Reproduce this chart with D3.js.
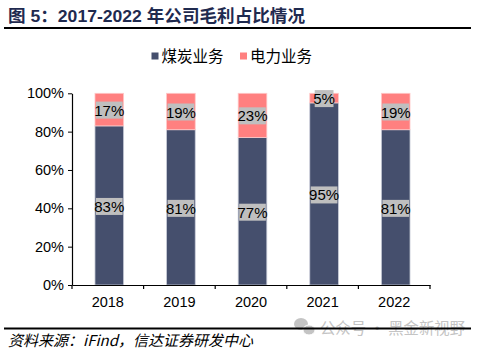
<!DOCTYPE html>
<html><head><meta charset="utf-8">
<script src="https://cdn.jsdelivr.net/npm/d3@7"></script>
<style>
body{margin:0;background:#fff;}
svg{display:block;font-family:"Liberation Sans",Arial,"Noto Sans CJK SC",sans-serif;}
</style></head>
<body><svg id="c" width="484" height="351"></svg>
<script>
const years = ["2018","2019","2020","2021","2022"];
const coal = [83,81,77,95,81];
const power = [17,19,23,5,19];
const seriesNames = ["煤炭业务","电力业务"];
const yTicks = [0,20,40,60,80,100];
const titleText = "图 5：2017-2022 年公司毛利占比情况";
const sourceText = "资料来源：iFind，信达证券研发中心";
const watermarkText = "公众号 · 黑金新视野";

const svg = d3.select("#c");
const colors = ["#454F6D","#FF8080"];
const L=72, R=430, T=93.3, B=285;
const x = d3.scaleBand().domain(years).range([L,R]).paddingInner(0.6).paddingOuter(0.3);
const xb = d3.scaleBand().domain(years).range([L,R]);
const y = d3.scaleLinear().domain([0,100]).range([B,T]);

// title
svg.append("text").attr("x",8).attr("y",21.5).attr("font-size",17).attr("font-weight","bold")
  .attr("fill","#1F2A4F").attr("font-family",'"Liberation Sans","Noto Sans CJK SC",sans-serif')
  .attr("textLength",297).attr("lengthAdjust","spacingAndGlyphs").text(titleText);
svg.append("line").attr("x1",4).attr("x2",471).attr("y1",28).attr("y2",28).attr("stroke","#000").attr("stroke-width",2);

// legend
const lg = svg.append("g");
[[151.5,seriesNames[0],colors[0]],[240,seriesNames[1],colors[1]]].forEach(([lx,t,c])=>{
  lg.append("rect").attr("x",lx).attr("y",52.5).attr("width",7).attr("height",7).attr("fill",c);
  lg.append("text").attr("x",lx+10).attr("y",61.5).attr("font-size",15.5).attr("fill","#000")
    .attr("font-family",'"Noto Sans CJK SC",sans-serif').text(t);
});

// bars
const data = years.map((yr,i)=>({yr,c:coal[i],p:power[i]}));
const g = svg.append("g");
data.forEach(d=>{
  g.append("rect").attr("x",x(d.yr)+1.5).attr("width",x.bandwidth()).attr("y",y(d.c)).attr("height",y(0)-y(d.c))
    .attr("fill",colors[0]).attr("stroke","#C8CCD8").attr("stroke-width",0.8);
  g.append("rect").attr("x",x(d.yr)+1.5).attr("width",x.bandwidth()).attr("y",y(d.c+d.p)).attr("height",y(d.c)-y(d.c+d.p))
    .attr("fill",colors[1]).attr("stroke","#FFC8C8").attr("stroke-width",0.8);
});

// labels
function label(cx,cy,t){
  const tw = t.length*7.9;
  g.append("rect").attr("x",cx-tw/2-1.5).attr("y",cy-8.5).attr("width",tw+3).attr("height",17).attr("fill","#BFBFBF");
  g.append("text").attr("x",cx).attr("y",cy+5.5).attr("text-anchor","middle").attr("font-size",15).attr("fill","#000").text(t);
}
data.forEach(d=>{
  const cx = x(d.yr)+1.5+x.bandwidth()/2;
  label(cx, y(d.c/2)+1, d.c+"%");
  label(cx, y(d.c+d.p/2)+0.5, d.p+"%");
});

// axes
const ya = d3.axisLeft(y).tickValues(yTicks).tickFormat(v=>v+"%").tickSize(4).tickSizeOuter(0);
const yg = svg.append("g").attr("transform",`translate(${L},0)`).call(ya);
yg.select(".domain").attr("stroke","#000").attr("stroke-width",1.2);
yg.selectAll(".tick line").attr("stroke","#000");
yg.selectAll("text").attr("font-size",14.5).attr("fill","#000").attr("font-family",'"Liberation Sans",Arial,sans-serif').attr("x",-8);

const xa = d3.axisBottom(xb).tickSize(0).tickSizeOuter(0);
const xg = svg.append("g").attr("transform",`translate(0,${B})`).call(xa);
xg.select(".domain").attr("stroke","#000").attr("stroke-width",1.2);
xg.selectAll("text").attr("font-size",14.5).attr("fill","#000").attr("y",12).attr("dy","0.71em").attr("font-family",'"Liberation Sans",Arial,sans-serif');
const bounds = years.map(v=>xb(v)).concat([R]);
xg.selectAll(".bt").data(bounds).enter().append("line").attr("class","bt")
  .attr("x1",d=>d).attr("x2",d=>d).attr("y1",0).attr("y2",4).attr("stroke","#000").attr("stroke-width",1.2);

// watermark
const wm = svg.append("g").attr("fill","#C4C4C4");
wm.append("ellipse").attr("cx",301).attr("cy",324).attr("rx",7).attr("ry",6);
wm.append("ellipse").attr("cx",309).attr("cy",330).attr("rx",6).attr("ry",5).attr("stroke","#fff").attr("stroke-width",1);
svg.append("text").attr("x",320).attr("y",334).attr("font-size",16).attr("fill","#C4C4C4")
  .attr("font-family",'"Noto Sans CJK SC",sans-serif').attr("textLength",145).attr("lengthAdjust","spacingAndGlyphs").text(watermarkText);

// footer
svg.append("line").attr("x1",4).attr("x2",471).attr("y1",328.5).attr("y2",328.5).attr("stroke","#000").attr("stroke-width",2);
svg.append("text").attr("x",8).attr("y",346).attr("font-size",15).attr("font-style","italic").attr("fill","#000")
  .attr("font-family",'"Noto Sans CJK SC",sans-serif').text(sourceText);
</script></body></html>
